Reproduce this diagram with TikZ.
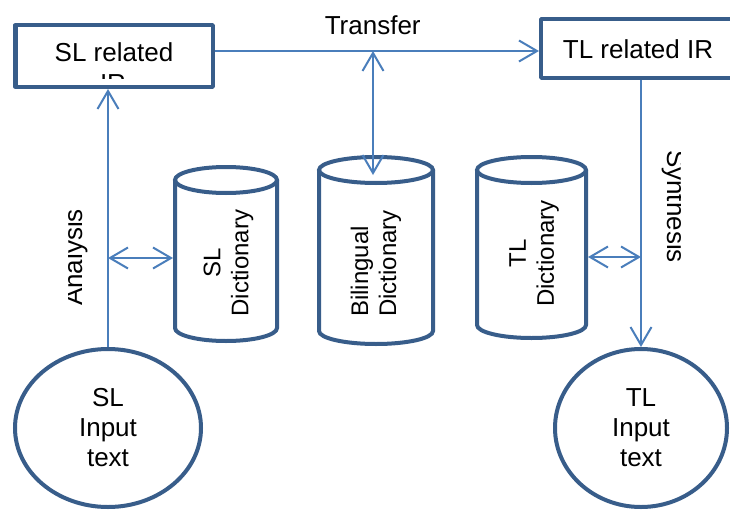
\documentclass[tikz,border=0pt]{standalone}
\usepackage{fontspec}
\setmainfont{Liberation Sans}
\usetikzlibrary{arrows.meta,shapes.geometric}
\definecolor{bordblue}{HTML}{385D8A}
\definecolor{lineblue}{HTML}{4A7EBB}
\tikzset{
  >={Straight Barb[length=18pt,width=21pt]},
  bigtxt/.style={font=\fontsize{26}{30}\selectfont, inner sep=0pt, outer sep=0pt},
  dicttxt/.style={font=\fontsize{24}{28}\selectfont, inner sep=0pt, align=center, rotate=90},
  irbox/.style={draw=bordblue, line width=4.5pt, line join=round, fill=white, inner sep=0pt, outer sep=2.25pt},
  cylbox/.style={draw=none, inner sep=0pt, outer sep=2pt},
  cylline/.style={draw=bordblue, line width=4pt},
  textell/.style={ellipse, draw=bordblue, line width=4pt, inner sep=0pt, outer sep=2pt, align=center, font=\fontsize{26}{30}\selectfont},
  conn/.style={draw=lineblue, line width=2pt}
}
\begin{document}
\begin{tikzpicture}[x=1pt,y=1pt]
\useasboundingbox (0,0) rectangle (730,-511);
\fill[white] (0,0) rectangle (730,-511);
\clip (0,0) rectangle (730,-511);

% IR boxes
\node[irbox, minimum width=197.5pt, minimum height=61.5pt] (slbox) at (114,-56) {};
\node[irbox, minimum width=203.75pt, minimum height=58.5pt] (tlbox) at (643.1,-48.5) {};
\begin{scope}
  \clip (20,-30) rectangle (210,-78);
  \node[bigtxt, anchor=base] (slt1) at (114,-62) {SL related};
  \node[bigtxt, anchor=base] (slt2) at (113,-92) {IR};
\end{scope}
\node[bigtxt, anchor=base] (tlt) at (638,-58.3) {TL related IR};
\node[bigtxt, anchor=base] (transfer) at (372.7,-35) {Transfer};

% cylinders (invisible frames for anchors)
\node[cylbox, minimum width=102pt, minimum height=174pt] (sld) at (226,-254) {};
\node[cylbox, minimum width=114pt, minimum height=187pt] (bil) at (376,-250.5) {};
\node[cylbox, minimum width=109pt, minimum height=181pt] (tld) at (531.5,-247.5) {};

\draw[cylline] (226,-180) ellipse [x radius=51, y radius=13];
\draw[cylline] (175,-180) -- (175,-328) arc[start angle=180, end angle=360, x radius=51, y radius=13] -- (277,-180);
\draw[cylline] (376,-170) ellipse [x radius=57, y radius=13];
\draw[cylline] (319,-170) -- (319,-331) arc[start angle=180, end angle=360, x radius=57, y radius=13] -- (433,-170);
\draw[cylline] (531.5,-170) ellipse [x radius=54.5, y radius=13];
\draw[cylline] (477,-170) -- (477,-325) arc[start angle=180, end angle=360, x radius=54.5, y radius=13] -- (586,-170);

\node[dicttxt] (sldt) at (228.5,-263) {SL\\Dictionary};
\node[dicttxt, align=left, anchor=west] (bilt) at (376,-317) {Bilingual\\Dictionary};
\node[dicttxt] (tldt) at (534,-253.5) {TL\\Dictionary};

% input / output ellipses
\node[textell, minimum width=186pt, minimum height=158pt] (slin) at (108,-428) {SL\\Input\\text};
\node[textell, minimum width=172pt, minimum height=158pt] (tlin) at (641,-428) {TL\\Input\\text};

% helper coordinates
\coordinate (hT) at (0,-51);
\coordinate (tj) at (373,-51);
\coordinate (bilcap) at (373,-175);
\coordinate (aj) at (108,-258);
\coordinate (sj) at (641,-257);

% connectors
\draw[conn, ->] (slbox.east |- hT) -- (tlbox.west |- hT);
\draw[conn, <->] (tj) -- (bilcap);
\draw[conn, ->] (slin.north) -- (slin.north |- slbox.south);
\draw[conn, <->] (aj) -- (sld.west |- aj);
\draw[conn, ->] (tlin.north |- tlbox.south) -- (tlin.north);
\draw[conn, <->] (tld.east |- sj) -- (sj);

% side labels (clipped as in the original)
\begin{scope}
  \clip (68.5,-150) rectangle (120,-350);
  \node[bigtxt, rotate=90, anchor=base] (anl) at (82,-257.5) {Analysis};
\end{scope}
\begin{scope}
  \clip (640,-140) rectangle (680.5,-280);
  \node[bigtxt, rotate=-90, anchor=base] (syn) at (667,-206.5) {Synthesis};
\end{scope}
\end{tikzpicture}
\end{document}
